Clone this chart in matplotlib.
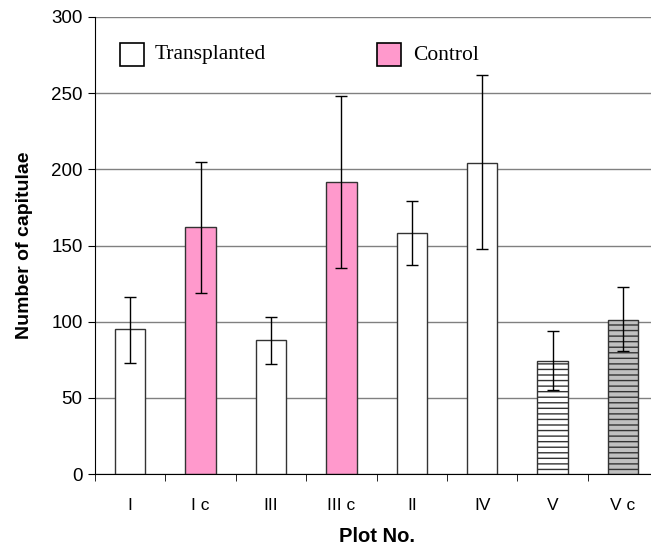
#
# capitulae per plot, bar chart with error bars
#

import matplotlib
matplotlib.use('Agg')
import matplotlib.pyplot as plt
from matplotlib.ticker import FixedLocator
import numpy as np

plots = ['I', 'I c', 'III', 'III c', 'II', 'IV', 'V', 'V c']
means = [95, 162, 88, 192, 158, 204, 74, 101]
err_low = [73, 119, 72, 135, 137, 148, 55, 81]
err_high = [116, 205, 103, 248, 179, 262, 94, 123]

colors = ['white', '#FF99CC', 'white', '#FF99CC', 'white', 'white', 'white', '#C0C0C0']
hatches = ['', '', '', '', '', '', '---', '---']

plt.rcParams['font.family'] = ['Liberation Sans', 'DejaVu Sans']

fig = plt.figure(figsize=(6.51, 5.48), dpi=100)
ax = fig.add_axes([0.146, 0.135, 0.865, 0.834])

x = np.arange(len(plots))
yerr = [np.array(means) - np.array(err_low), np.array(err_high) - np.array(means)]

for i in range(len(plots)):
    ax.bar(x[i], means[i], width=0.43, color=colors[i], edgecolor='#333333',
           linewidth=1.0, hatch=hatches[i], zorder=2)
ax.errorbar(x, means, yerr=yerr, fmt='none', ecolor='black', elinewidth=1.0,
            capsize=4, capthick=1.0, zorder=3)

ax.set_xlim(-0.5, len(plots) - 0.5)
ax.set_ylim(0, 300)
ax.set_yticks(range(0, 301, 50))
ax.yaxis.grid(True, color='#808080', linewidth=1.0, zorder=0)
ax.set_axisbelow(True)

ax.set_xticks(x)
ax.set_xticklabels(plots, fontsize=12.5)
ax.xaxis.set_minor_locator(FixedLocator(np.arange(-0.5, len(plots), 1.0)))
ax.tick_params(axis='x', which='major', length=0, pad=17)
ax.tick_params(axis='x', which='minor', length=5, direction='out', color='black')
ax.tick_params(axis='y', length=5, direction='out', labelsize=13.5, pad=4)

for s in ['top', 'right']:
    ax.spines[s].set_visible(False)
ax.spines['left'].set_color('black')
ax.spines['bottom'].set_color('black')

ax.set_ylabel('Number of capitulae', fontsize=14, fontweight='bold', labelpad=13)
ax.set_xlabel('Plot No.', fontsize=14.5, fontweight='bold', labelpad=10)

# legend drawn by hand like the original
fig.patches.append(plt.Rectangle((120 / 651, 1 - 66 / 548), 24 / 651, 23 / 548,
                                 transform=fig.transFigure, facecolor='white',
                                 edgecolor='black', linewidth=1.2))
fig.patches.append(plt.Rectangle((377 / 651, 1 - 66 / 548), 24 / 651, 23 / 548,
                                 transform=fig.transFigure, facecolor='#FF99CC',
                                 edgecolor='black', linewidth=1.2))
fig.text(155 / 651, 1 - 55 / 548, 'Transplanted', fontsize=15.5, va='center',
         family=['Liberation Serif', 'DejaVu Serif'])
fig.text(413 / 651, 1 - 55 / 548, 'Control', fontsize=15.5, va='center',
         family=['Liberation Serif', 'DejaVu Serif'])

fig.savefig('out.png', dpi=100)
